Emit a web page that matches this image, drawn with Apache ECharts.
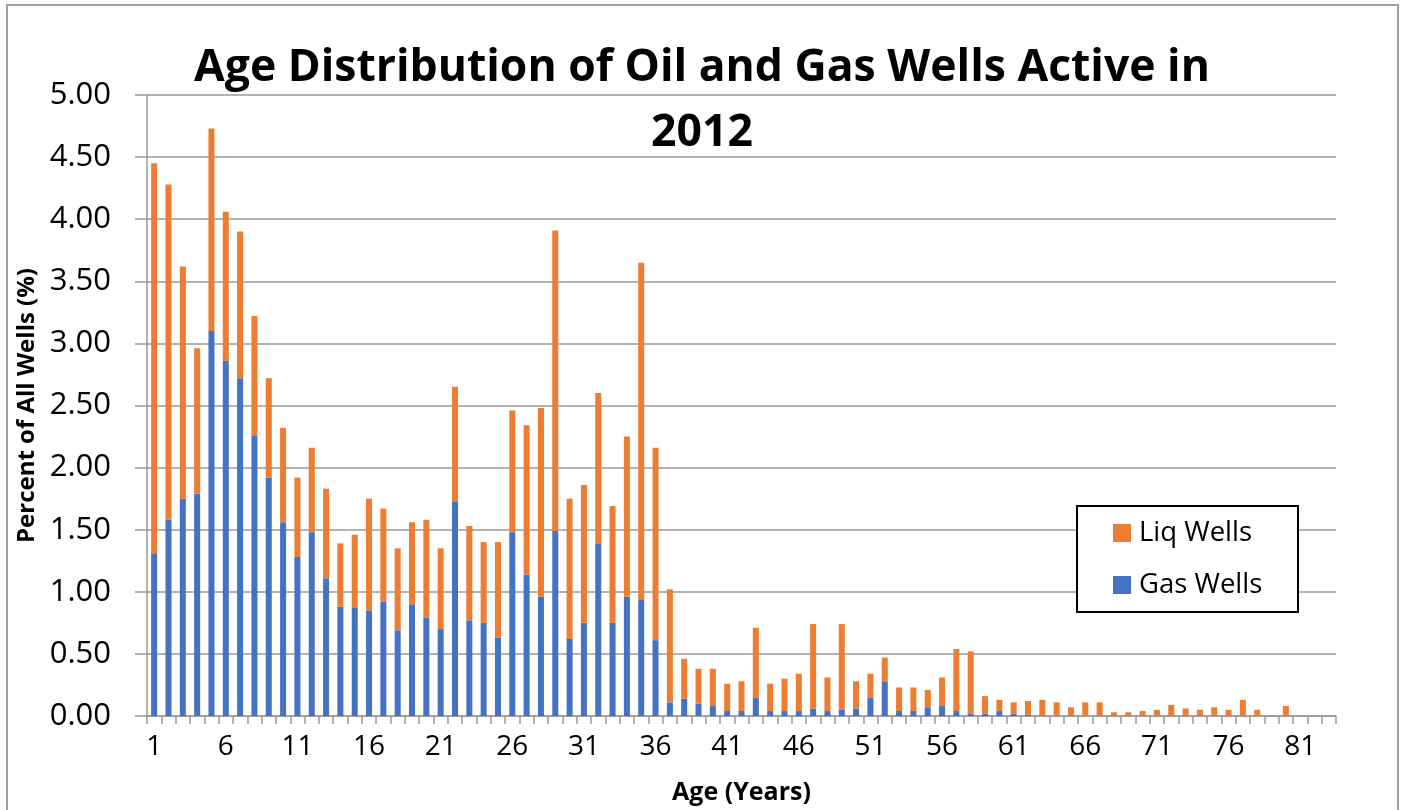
<!DOCTYPE html>
<html>
<head>
<meta charset="utf-8">
<script src="https://cdn.jsdelivr.net/npm/echarts@6/dist/echarts.min.js"></script>
<style>
html,body{margin:0;padding:0;background:#fff;}
#chart{width:1406px;height:810px;}
</style>
</head>
<body>
<div id="chart"></div>
<script>
const categories = ['1','2','3','4','5','6','7','8','9','10','11','12','13','14','15','16','17','18','19','20',
  '21','22','23','24','25','26','27','28','29','30','31','32','33','34','35','36','37','38','39','40',
  '41','42','43','44','45','46','47','48','49','50','51','52','53','54','55','56','57','58','59','60',
  '61','62','63','64','65','66','67','68','69','70','71','72','73','74','75','76','77','78','79','80',
  '81','82','83'];

const gasWells = [1.31,1.58,1.75,1.79,3.10,2.86,2.72,2.26,1.92,1.56,
  1.28,1.48,1.11,0.88,0.87,0.85,0.92,0.69,0.90,0.79,
  0.70,1.73,0.77,0.75,0.63,1.48,1.14,0.96,1.49,0.62,
  0.75,1.39,0.75,0.96,0.94,0.61,0.11,0.14,0.10,0.08,
  0.04,0.04,0.15,0.04,0.04,0.04,0.06,0.04,0.05,0.06,
  0.15,0.28,0.04,0.04,0.07,0.08,0.04,0.02,0.02,0.04,
  0.02,0.01,0,0,0,0,0,0,0,0,
  0,0,0,0,0,0,0,0,0,0,
  0,0,0];

const liqWells = [3.14,2.70,1.87,1.17,1.63,1.20,1.18,0.96,0.80,0.76,
  0.64,0.68,0.72,0.51,0.59,0.90,0.75,0.66,0.66,0.79,
  0.65,0.92,0.76,0.65,0.77,0.98,1.20,1.52,2.42,1.13,
  1.11,1.21,0.94,1.29,2.71,1.55,0.91,0.32,0.28,0.30,
  0.22,0.24,0.56,0.22,0.26,0.30,0.68,0.27,0.69,0.22,
  0.19,0.19,0.19,0.19,0.14,0.23,0.50,0.50,0.14,0.09,
  0.09,0.11,0.13,0.11,0.07,0.11,0.11,0.03,0.03,0.04,
  0.05,0.09,0.06,0.05,0.07,0.05,0.13,0.05,0,0.08,
  0,0,0];

const chart = echarts.init(document.getElementById('chart'), null, {renderer:'canvas'});
const FONT = '"Open Sans", "Noto Sans", sans-serif';
const AXIS_GRAY = '#9a9a9a';

chart.setOption({
  backgroundColor: '#ffffff',
  animation: false,
  textStyle: { fontFamily: FONT },
  title: {
    text: 'Age Distribution of Oil and Gas Wells Active in\n2012',
    left: 702,
    top: 36,
    textAlign: 'center',
    padding: 0,
    textStyle: { fontFamily: FONT, fontWeight: 'bold', fontSize: 44.5, lineHeight: 65, color: '#000' }
  },
  graphic: [
    { type: 'rect', z: -10, silent: true,
      shape: { x: 7, y: 5, width: 1391, height: 830 },
      style: { fill: 'none', stroke: '#a0a0a0', lineWidth: 2 } },
    { type: 'rect', z: 3, silent: true,
      shape: { x: 1077, y: 506, width: 221, height: 106 },
      style: { fill: '#ffffff', stroke: '#000000', lineWidth: 2 } }
  ],
  legend: {
    data: ['Liq Wells', 'Gas Wells'],
    orient: 'vertical',
    left: 1113,
    top: 518,
    padding: 0,
    itemWidth: 18,
    itemHeight: 18,
    itemGap: 22,
    icon: 'rect',
    z: 5,
    textStyle: { fontFamily: FONT, fontSize: 27.5, lineHeight: 30, color: '#000', padding: [0,0,0,3] }
  },
  grid: {
    left: 147, right: 70, top: 95, bottom: 94,
    containLabel: false,
    outerBoundsMode: 'none'
  },
  xAxis: {
    type: 'category',
    data: categories,
    boundaryGap: true,
    name: 'Age (Years)',
    nameLocation: 'middle',
    nameGap: 64,
    nameTextStyle: { fontFamily: FONT, fontWeight: 'bold', fontSize: 25, color: '#000' },
    axisLine: { show: true, lineStyle: { color: AXIS_GRAY, width: 1.5 } },
    axisTick: { show: true, interval: 0, length: 8, alignWithLabel: false, lineStyle: { color: AXIS_GRAY, width: 1.5 } },
    axisLabel: { interval: 4, margin: 17, fontFamily: FONT, fontSize: 28, color: '#000' },
    splitLine: { show: false }
  },
  yAxis: {
    type: 'value',
    min: 0, max: 5, interval: 0.5,
    name: 'Percent of All Wells (%)',
    nameLocation: 'middle',
    nameGap: 102,
    nameTextStyle: { fontFamily: FONT, fontWeight: 'bold', fontSize: 24, color: '#000' },
    axisLine: { show: true, lineStyle: { color: AXIS_GRAY, width: 1.5 } },
    axisTick: { show: true, length: 12, lineStyle: { color: AXIS_GRAY, width: 1.5 } },
    axisLabel: { margin: 36, fontFamily: FONT, fontSize: 31, color: '#000',
      formatter: v => v.toFixed(2) },
    splitLine: { show: true, lineStyle: { color: AXIS_GRAY, width: 1.5 } }
  },
  series: [
    { name: 'Gas Wells', type: 'bar', stack: 'wells', data: gasWells, barWidth: '42%',
      itemStyle: { color: '#4472C4' } },
    { name: 'Liq Wells', type: 'bar', stack: 'wells', data: liqWells, barWidth: '42%',
      itemStyle: { color: '#ED7D31' } }
  ]
});
</script>
</body>
</html>
